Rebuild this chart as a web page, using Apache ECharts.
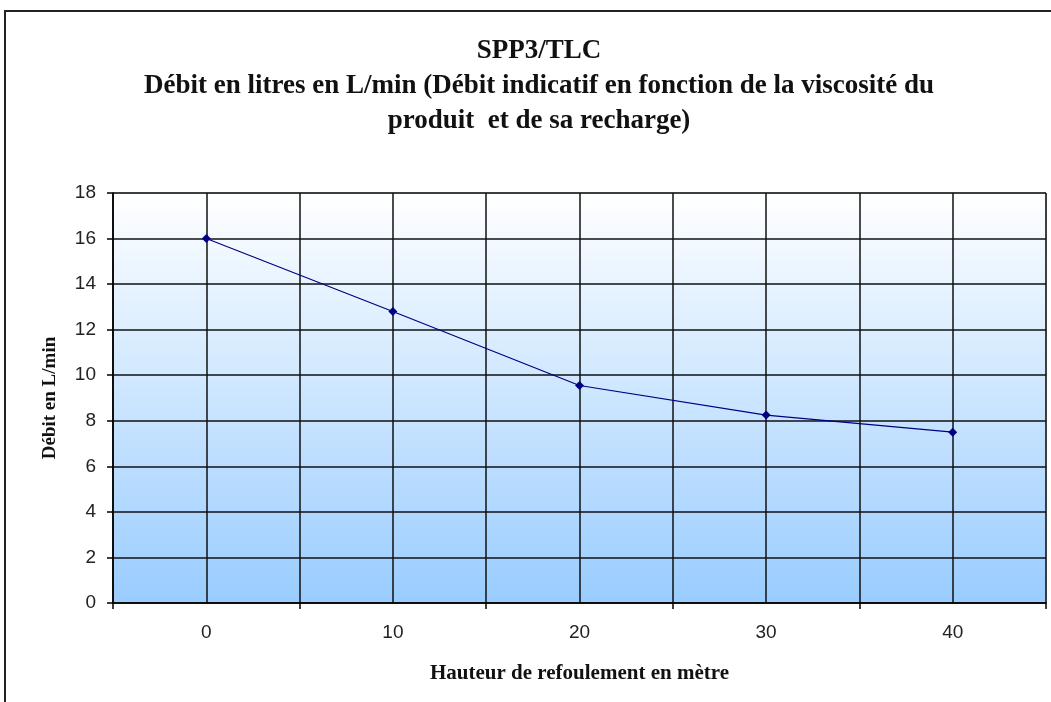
<!DOCTYPE html>
<html>
<head>
<meta charset="utf-8">
<script src="https://cdn.jsdelivr.net/npm/echarts@6/dist/echarts.min.js"></script>
<style>
  html, body { margin: 0; padding: 0; background: #fff; }
  #chart { width: 1051px; height: 702px; }
</style>
</head>
<body>
<div id="chart"></div>
<script>
// hauteur de refoulement (m) et débit (L/min)
var hauteurs = ["0", "10", "20", "30", "40"];
var debits = [16, 12.8, 9.55, 8.25, 7.5];
var yTicks = { min: 0, max: 18, interval: 2 };
var titre = "SPP3/TLC\nDébit en litres en L/min (Débit indicatif en fonction de la viscosité du\nproduit  et de sa recharge)";

var serif = "'Liberation Serif', 'DejaVu Serif', serif";
var sans = "'Liberation Sans', Arial, sans-serif";

var chart = echarts.init(document.getElementById("chart"));
chart.setOption({
  backgroundColor: "#fff",
  animation: false,
  graphic: [
    {
      type: "rect",
      shape: { x: 5, y: 11, width: 1070, height: 720 },
      style: { fill: "none", stroke: "#222", lineWidth: 2 },
      silent: true
    },
    {
      // titre (légèrement décalé à droite comme dans l'original)
      type: "text",
      x: 539,
      y: 34,
      silent: true,
      style: {
        text: titre,
        align: "center",
        verticalAlign: "top",
        fontFamily: serif,
        fontWeight: "bold",
        fontSize: 27,
        lineHeight: 35,
        fill: "#111"
      }
    }
  ],
  grid: {
    left: 113,
    right: 5,
    top: 193,
    bottom: 99,
    show: true,
    borderColor: "#999",
    borderWidth: 1,
    backgroundColor: {
      type: "linear",
      x: 0, y: 0, x2: 0, y2: 1,
      colorStops: [
        { offset: 0, color: "#ffffff" },
        { offset: 1, color: "#99ccff" }
      ]
    }
  },
  xAxis: [
    {
      type: "category",
      data: hauteurs,
      boundaryGap: true,
      name: "Hauteur de refoulement en mètre",
      nameLocation: "middle",
      nameGap: 60,
      nameTextStyle: {
        fontFamily: serif,
        fontWeight: "bold",
        fontSize: 21,
        color: "#111"
      },
      axisLine: { onZero: false, lineStyle: { color: "#000", width: 1.5 } },
      axisTick: { show: true, length: 6, lineStyle: { color: "#000", width: 1.5 } },
      axisLabel: { fontFamily: sans, fontSize: 19, color: "#222", margin: 20 },
      splitLine: { show: false }
    },
    {
      // axe auxiliaire pour tracer le quadrillage vertical tous les 5 m
      type: "value",
      position: "bottom",
      min: -5,
      max: 45,
      interval: 5,
      axisLine: { show: false, onZero: false },
      axisTick: { show: false },
      axisLabel: { show: false },
      splitLine: { show: true, lineStyle: { color: "#111", width: 1.5 } }
    }
  ],
  yAxis: {
    type: "value",
    min: yTicks.min,
    max: yTicks.max,
    interval: yTicks.interval,
    name: "Débit en L/min",
    nameLocation: "middle",
    nameGap: 53,
    nameTextStyle: {
      fontFamily: serif,
      fontWeight: "bold",
      fontSize: 19,
      color: "#111"
    },
    axisLine: { show: true, onZero: false, lineStyle: { color: "#000", width: 1.5 } },
    axisTick: { show: true, length: 6, lineStyle: { color: "#000", width: 1.5 } },
    axisLabel: { fontFamily: sans, fontSize: 19, color: "#222", margin: 17 },
    splitLine: { show: true, lineStyle: { color: "#111", width: 1.5 } }
  },
  series: [
    {
      type: "line",
      xAxisIndex: 0,
      data: debits,
      symbol: "diamond",
      symbolSize: 9,
      lineStyle: { color: "#000080", width: 1.2 },
      itemStyle: { color: "#000080" },
      z: 5
    }
  ]
});
</script>
</body>
</html>
